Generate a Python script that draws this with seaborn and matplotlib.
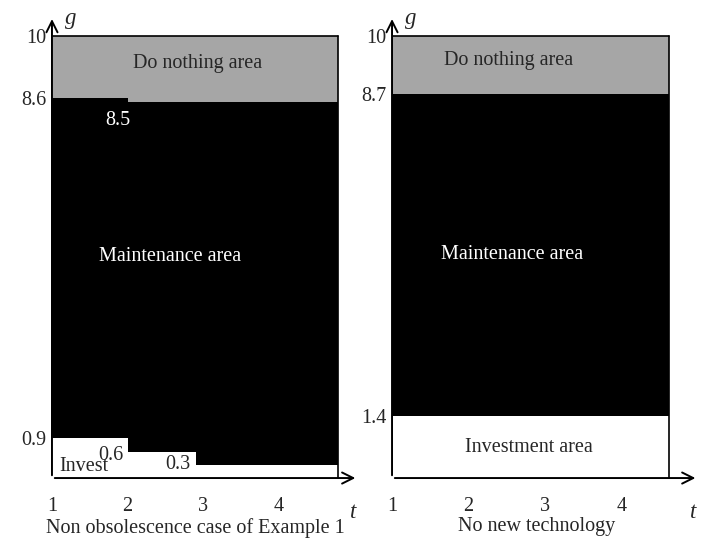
import seaborn as sns
import matplotlib.pyplot as plt

# step boundaries of the regions (value holds until the next t)
left_t = [1, 2, 2.9, 4.78]
left_upper = [8.6, 8.5, 8.5, 8.5]
left_lower = [0.9, 0.6, 0.3, 0.3]

right_t = [1, 2, 3, 4.62]
right_upper = [8.7, 8.7, 8.7, 8.7]
right_lower = [1.4, 1.4, 1.4, 1.4]

g_max = 10
t_ticks = [1, 2, 3, 4]
left_yticks = [0.9, 8.6, 10]
right_yticks = [1.4, 8.7, 10]

sns.set_style('white')
plt.rcParams['font.family'] = ['Liberation Serif', 'DejaVu Serif']

GRAY = '#a6a6a6'
FS = 14.5


def draw_panel(ax, t, upper, lower, yticks, xmax):
    top = [g_max] * len(t)
    zero = [0] * len(t)
    ax.fill_between(t, upper, top, step='post', color=GRAY, lw=0)
    ax.fill_between(t, lower, upper, step='post', color='black', lw=0)
    ax.fill_between(t, zero, lower, step='post', color='white', lw=0)
    sns.lineplot(x=t, y=top, color='black', lw=1.2, ax=ax)
    ax.plot([t[-1], t[-1]], [0, g_max], color='black', lw=1.2)

    ax.set_xlim(1, xmax)
    ax.set_ylim(0, 10.45)
    for s in ax.spines.values():
        s.set_visible(False)
    arrow = dict(arrowstyle='->', color='black', lw=1.4, mutation_scale=20)
    ax.annotate('', xy=(xmax, 0), xytext=(1, 0), arrowprops=arrow,
                annotation_clip=False)
    ax.annotate('', xy=(1, 10.45), xytext=(1, 0), arrowprops=arrow,
                annotation_clip=False)
    ax.set_xticks(t_ticks)
    ax.set_xticklabels([str(v) for v in t_ticks], fontsize=FS)
    ax.set_yticks(yticks)
    ax.set_yticklabels([f'{v:g}' for v in yticks], fontsize=FS)
    ax.tick_params(axis='x', length=0, pad=14)
    ax.tick_params(axis='y', length=0, pad=4)
    ax.text(1.25, 10.4, 'g', fontsize=FS + 2, style='italic', ha='center', va='center')
    ax.text(xmax - 0.07, -0.55, 't', fontsize=FS + 2, style='italic', ha='center', va='top')
    ax.set_xlabel('')
    ax.set_ylabel('')


fig = plt.figure(figsize=(7.12, 5.42), dpi=100)
ax1 = fig.add_axes([0.073, 0.118, 0.430, 0.852])
ax2 = fig.add_axes([0.5506, 0.118, 0.430, 0.852])

draw_panel(ax1, left_t, left_upper, left_lower, left_yticks, 5.05)
draw_panel(ax2, right_t, right_upper, right_lower, right_yticks, 5.0)

ax1.text(2.93, 9.37, 'Do nothing area', fontsize=FS, ha='center', va='center')
ax1.text(2.56, 5.02, 'Maintenance area', fontsize=FS, ha='center', va='center', color='white')
ax1.text(1.87, 8.1, '8.5', fontsize=FS, ha='center', va='center', color='white')
ax1.text(1.1, 0.25, 'Invest', fontsize=FS, ha='left', va='center')
ax1.text(1.78, 0.52, '0.6', fontsize=FS, ha='center', va='center')
ax1.text(2.67, 0.3, '0.3', fontsize=FS, ha='center', va='center')

ax2.text(2.52, 9.45, 'Do nothing area', fontsize=FS, ha='center', va='center')
ax2.text(2.57, 5.05, 'Maintenance area', fontsize=FS, ha='center', va='center', color='white')
ax2.text(2.79, 0.68, 'Investment area', fontsize=FS, ha='center', va='center')

fig.text(195 / 712, 1 - 528 / 542, 'Non obsolescence case of Example 1', fontsize=FS,
         ha='center', va='center')
fig.text(537 / 712, 1 - 527 / 542, 'No new technology', fontsize=FS,
         ha='center', va='center')

fig.savefig('out.png', dpi=100)
